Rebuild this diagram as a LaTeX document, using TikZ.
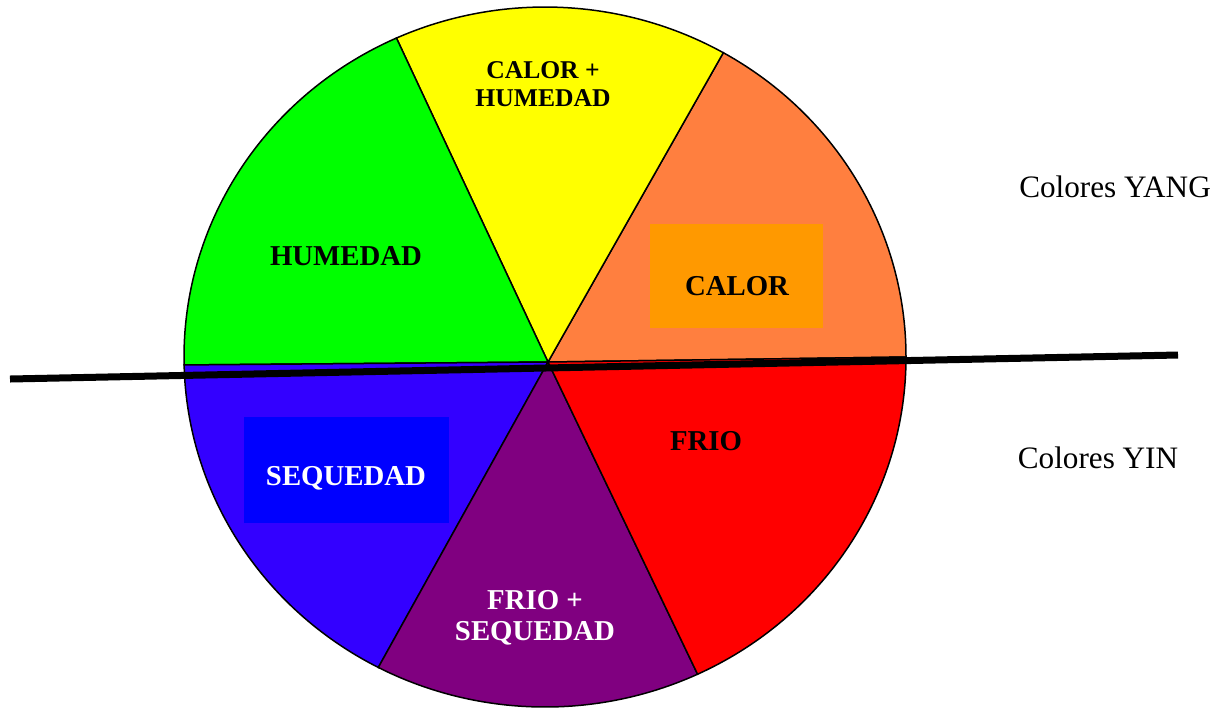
\documentclass[tikz,border=0pt]{standalone}
\usepackage{fontspec}
\setmainfont{Liberation Serif}
\definecolor{calorsec}{HTML}{FF7F3F}
\definecolor{calorbox}{HTML}{FF9900}
\definecolor{yellowsec}{HTML}{FFFF00}
\definecolor{greensec}{HTML}{00FF00}
\definecolor{bluesec}{HTML}{3300FF}
\definecolor{bluebox}{HTML}{0000FF}
\definecolor{purplesec}{HTML}{800080}
\definecolor{redsec}{HTML}{FF0000}
\begin{document}
\begin{tikzpicture}[x=0.5pt,y=-0.5pt,
    lbl/.style={font=\fontsize{14.4}{15.5}\selectfont\bfseries, align=center, inner sep=0pt},
    side/.style={font=\fontsize{15.6}{18}\selectfont, inner sep=0pt}]
        \useasboundingbox (0,0) rectangle (1225,709);

        % Centre of the wheel and meeting point of the sectors
        \coordinate (O) at (545,357);
        \coordinate (C) at (548,362);

        % Draw the six sectors (angles run clockwise since y points down)
        \foreach \a/\b/\col in {0/-60.4/calorsec, -60.4/-114.3/yellowsec, -114.3/-181.3/greensec,
                                -181.3/-242.5/bluesec, -242.5/-295/purplesec, -295/-360/redsec} {
            \filldraw[fill=\col, draw=black, line width=0.75pt]
                (C) -- ([shift={(O)}]\a:361 and 350)
                arc[start angle=\a, end angle=\b, x radius=361, y radius=350] -- cycle;
        }

        % Boxes behind CALOR and SEQUEDAD
        \fill[calorbox] (650,224) rectangle (823,328);
        \fill[bluebox] (244,417) rectangle (449,523);

        % Sector labels
        \node[lbl, font=\fontsize{12.8}{14}\selectfont\bfseries] (calorhum) at (543,84) {CALOR +\\HUMEDAD};
        \node[lbl] (humedad) at (346,256) {HUMEDAD};
        \node[lbl] (calor) at (737,286) {CALOR};
        \node[lbl] (frio) at (706,441) {FRIO};
        \node[lbl, text=white] (sequedad) at (346,478) {SEQUEDAD};
        \node[lbl, text=white] (friosec) at (535,618) {FRIO +\\SEQUEDAD};

        % Yang / yin dividing line
        \coordinate (lineW) at (10,379);
        \coordinate (lineE) at (1178,355);
        \draw[line width=3.5pt] (lineW) -- (lineE);

        % Side labels
        \node[side] (yang) at (1115,187) {Colores YANG};
        \node[side] (yin) at (1098,458) {Colores YIN};
\end{tikzpicture}
\end{document}
